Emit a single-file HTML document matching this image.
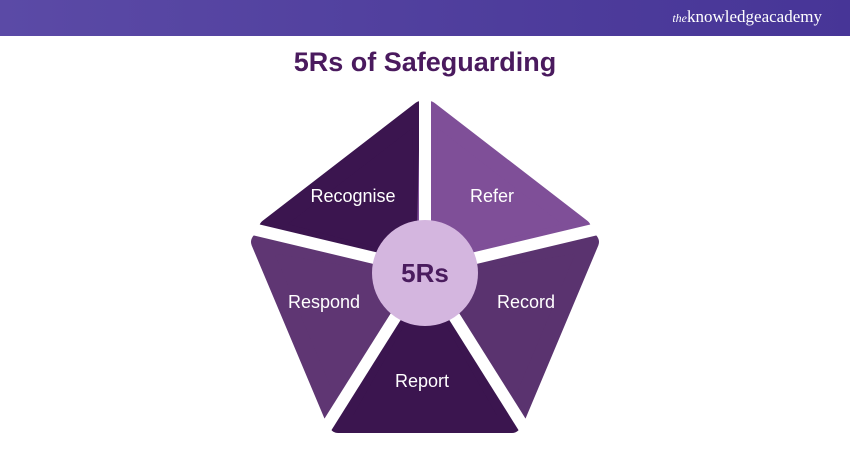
<!DOCTYPE html>
<html><head><meta charset="utf-8"><style>
body{margin:0;width:850px;height:450px;background:#fff;overflow:hidden;font-family:"Liberation Sans",sans-serif}
.hdr{position:absolute;left:0;top:0;width:850px;height:36px;background:linear-gradient(90deg,#5b4aa6,#4e3d9c 60%,#473597)}
.logo{position:absolute;right:28px;top:7px;color:#fff;font-family:"Liberation Serif",serif;font-size:17px}
.logo i{font-size:12px}
h1{position:absolute;top:47px;left:0;width:850px;margin:0;text-align:center;font-size:27px;font-weight:bold;color:#4a1a5e}
</style></head><body>
<div class="hdr"><div class="logo"><i>the</i>knowledgeacademy</div></div>
<h1>5Rs of Safeguarding</h1>
<svg width="850" height="450" style="position:absolute;left:0;top:0">
<g stroke-linejoin="round" stroke-width="18">
<polygon points="425,270 421,110 268,228" fill="#3b154f" stroke="#3b154f"/>
<polygon points="425,270 429,110 582,228" fill="#7f4f98" stroke="#7f4f98"/>
<polygon points="425,270 260,242 334,418" fill="#5f3673" stroke="#5f3673"/>
<polygon points="425,270 590,242 516,418" fill="#5a336f" stroke="#5a336f"/>
<polygon points="425,270 338,424 512,424" fill="#3b154f" stroke="#3b154f"/>
</g>
<g stroke="#fff" stroke-width="12">
<line x1="425" y1="270" x2="425" y2="80"/>
<line x1="425" y1="270" x2="240" y2="226"/>
<line x1="425" y1="270" x2="610" y2="226"/>
<line x1="425" y1="270" x2="315" y2="445"/>
<line x1="425" y1="270" x2="535" y2="445"/>
</g>
<circle cx="425" cy="273" r="53" fill="#d4b6df"/>
<g font-family="Liberation Sans, sans-serif" fill="#fff" font-size="18" text-anchor="middle">
<text x="353" y="202">Recognise</text>
<text x="492" y="202">Refer</text>
<text x="324" y="308">Respond</text>
<text x="526" y="308">Record</text>
<text x="422" y="387">Report</text>
</g>
<text x="425" y="282" text-anchor="middle" font-family="Liberation Sans, sans-serif" font-weight="bold" font-size="26" fill="#4a1c5e">5Rs</text>
</svg>
</body></html>
